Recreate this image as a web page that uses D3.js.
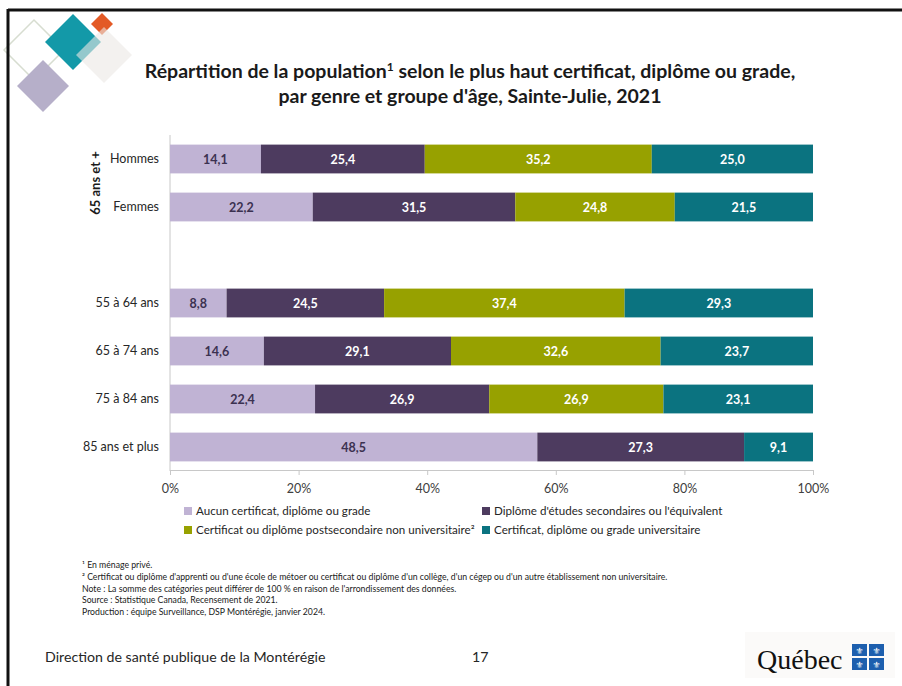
<!DOCTYPE html>
<html lang="fr">
<head>
<meta charset="utf-8">
<script src="https://cdn.jsdelivr.net/npm/d3@7"></script>
<style>
  body { margin: 0; background: #fff; }
  svg { display: block; font-family: Lato, "Open Sans", sans-serif; }
</style>
</head>
<body>
<div id="chart"></div>
<script>
/* Data */
var rows = ["Hommes", "Femmes", "gap", "55 à 64 ans", "65 à 74 ans", "75 à 84 ans", "85 ans et plus"];
var seriesNames = [
  "Aucun certificat, diplôme ou grade",
  "Diplôme d'études secondaires ou l'équivalent",
  "Certificat ou diplôme postsecondaire non universitaire²",
  "Certificat, diplôme ou grade universitaire"
];
var aucun      = [14.1, 22.2, null,  8.8, 14.6, 22.4, 48.5];
var secondaire = [25.4, 31.5, null, 24.5, 29.1, 26.9, 27.3];
var postsec    = [35.2, 24.8, null, 37.4, 32.6, 26.9, null];
var univ       = [25.0, 21.5, null, 29.3, 23.7, 23.1,  9.1];
var xTicks = [0, 0.2, 0.4, 0.6, 0.8, 1];
var colors = ["#c0b3d4", "#4d3b5f", "#97a100", "#0b7380"];
var labelColors = ["#3b3150", "#fff", "#fff", "#fff"];

var footnotes = [
  "¹ En ménage privé.",
  "² Certificat ou diplôme d'apprenti ou d'une école de métoer ou certificat ou diplôme d'un collège, d'un cégep ou d'un autre établissement non universitaire.",
  "Note : La somme des catégories peut différer de 100 % en raison de l'arrondissement des données.",
  "Source : Statistique Canada, Recensement de 2021.",
  "Production : équipe Surveillance, DSP Montérégie, janvier 2024."
];

var W = 902, H = 686;
var svg = d3.select("#chart").append("svg").attr("width", W).attr("height", H);

/* slide frame */
svg.append("rect").attr("width", W).attr("height", H).attr("fill", "#fff");

/* decorative diamonds, top left */
var logo = svg.append("g");
function diamond(cx, cy, r) {
  return "M" + cx + "," + (cy - r) + "L" + (cx + r) + "," + cy + "L" + cx + "," + (cy + r) + "L" + (cx - r) + "," + cy + "Z";
}
logo.append("path").attr("d", diamond(34, 50, 30)).attr("fill", "none")
  .attr("stroke", "#d7ddd0").attr("stroke-width", 1.5);
logo.append("path").attr("d", diamond(43, 86, 26)).attr("fill", "#b6afc9");
logo.append("path").attr("d", diamond(73, 42, 28)).attr("fill", "#1399a8");
logo.append("path").attr("d", diamond(102, 24, 11)).attr("fill", "#e35a26");
logo.append("path").attr("d", diamond(104, 55, 28)).attr("fill", "#ebe7e4").attr("fill-opacity", 0.6);

svg.append("line").attr("x1", 8).attr("x2", W).attr("y1", 10).attr("y2", 10)
  .attr("stroke", "#111").attr("stroke-width", 3);
svg.append("line").attr("x1", 8).attr("x2", 8).attr("y1", 9).attr("y2", H)
  .attr("stroke", "#111").attr("stroke-width", 3);

/* title */
var title = svg.append("text").attr("text-anchor", "middle")
  .attr("font-weight", "bold").attr("font-size", 19.5).attr("fill", "#1a1a1a");
var t1 = title.append("tspan").attr("x", 470).attr("y", 78);
t1.append("tspan").text("Répartition de la population");
t1.append("tspan").attr("dy", -7).attr("font-size", 12).text("1");
t1.append("tspan").attr("dy", 7).text(" selon le plus haut certificat, diplôme ou grade,");
title.append("tspan").attr("x", 470).attr("y", 103).text("par genre et groupe d'âge, Sainte-Julie, 2021");

/* scales */
var x = d3.scaleLinear().domain([0, 1]).range([170, 813]);
var y = d3.scaleBand().domain(rows).range([135, 471]).paddingInner(0.4).paddingOuter(0.2);

var table = rows.map(function (r, i) {
  return { row: r, s0: aucun[i] || 0, s1: secondaire[i] || 0, s2: postsec[i] || 0, s3: univ[i] || 0,
           raw: [aucun[i], secondaire[i], postsec[i], univ[i]] };
}).filter(function (d) { return d.row !== "gap"; });

var stack = d3.stack().keys(["s0", "s1", "s2", "s3"]).offset(d3.stackOffsetExpand);
var layers = stack(table);

/* axes */
var xAxis = svg.append("g").attr("transform", "translate(0,470)")
  .call(d3.axisBottom(x).tickValues(xTicks).tickFormat(d3.format(".0%")).tickSize(5).tickSizeOuter(5));
xAxis.select(".domain").attr("stroke", "#c8c8c8");
xAxis.selectAll(".tick line").attr("stroke", "#c8c8c8");
xAxis.selectAll(".tick text").attr("font-size", 12.5).attr("fill", "#404040")
  .attr("font-family", "Lato, sans-serif").attr("dy", "1.2em");

var yAxis = svg.append("g").attr("transform", "translate(170,0)")
  .call(d3.axisLeft(y).tickSize(0).tickPadding(11).tickFormat(function (d) { return d === "gap" ? "" : d; }));
yAxis.select(".domain").attr("stroke", "#c8c8c8").attr("d", "M0,135V471");
yAxis.selectAll(".tick text").attr("font-size", 12.5).attr("fill", "#262626")
  .attr("font-family", "Lato, sans-serif");

svg.append("text").attr("transform", "translate(100,183) rotate(-90)")
  .attr("text-anchor", "middle").attr("font-weight", "bold").attr("font-size", 13)
  .attr("fill", "#1a1a1a").text("65 ans et +");

/* bars */
layers.forEach(function (layer, k) {
  var g = svg.append("g");
  g.selectAll("rect").data(layer).enter().append("rect")
    .attr("x", function (d) { return x(d[0]); })
    .attr("width", function (d) { return x(d[1]) - x(d[0]); })
    .attr("y", function (d) { return y(d.data.row); })
    .attr("height", y.bandwidth())
    .attr("fill", colors[k]);
  g.selectAll("text").data(layer.filter(function (d) { return d.data.raw[k] != null; }))
    .enter().append("text")
    .attr("x", function (d) { return (x(d[0]) + x(d[1])) / 2; })
    .attr("y", function (d) { return y(d.data.row) + y.bandwidth() / 2; })
    .attr("dy", "0.36em").attr("text-anchor", "middle")
    .attr("font-size", 12.5).attr("font-weight", "bold").attr("fill", labelColors[k])
    .text(function (d) { return d.data.raw[k].toFixed(1).replace(".", ","); });
});

/* legend */
var legPos = [[184, 511], [482, 511], [184, 530], [482, 530]];
seriesNames.forEach(function (name, k) {
  var g = svg.append("g").attr("transform", "translate(" + legPos[k][0] + "," + legPos[k][1] + ")");
  g.append("rect").attr("x", 0).attr("y", -4).attr("width", 8).attr("height", 8).attr("fill", colors[k]);
  g.append("text").attr("x", 12).attr("dy", "0.36em").attr("font-size", 11.6)
    .attr("fill", "#262626").text(name);
});

/* footnotes */
svg.append("g").selectAll("text").data(footnotes).enter().append("text")
  .attr("x", 82).attr("y", function (d, i) { return 568 + i * 11.8; })
  .attr("font-size", 8.7).attr("fill", "#1a1a1a").text(function (d) { return d; });

/* footer */
svg.append("text").attr("x", 45).attr("y", 662).attr("font-size", 14.2).attr("fill", "#262626")
  .text("Direction de santé publique de la Montérégie");
svg.append("text").attr("x", 472).attr("y", 662).attr("font-size", 14.2).attr("fill", "#262626").text("17");

var qc = svg.append("g");
qc.append("rect").attr("x", 745).attr("y", 632).attr("width", 150).attr("height", 46).attr("fill", "#fbfaf9");
qc.append("text").attr("x", 757).attr("y", 669).attr("font-family", "'Liberation Serif', serif")
  .attr("font-size", 28).attr("fill", "#111").text("Québec");
[[852, 644], [869, 644], [852, 658], [869, 658]].forEach(function (p) {
  qc.append("rect").attr("x", p[0]).attr("y", p[1]).attr("width", 15).attr("height", 12).attr("fill", "#1d5fae");
  qc.append("text").attr("x", p[0] + 7.5).attr("y", p[1] + 9.5).attr("text-anchor", "middle")
    .attr("font-family", "'DejaVu Sans'").attr("font-size", 9).attr("fill", "#fff").text("⚜");
});
</script>
</body>
</html>
